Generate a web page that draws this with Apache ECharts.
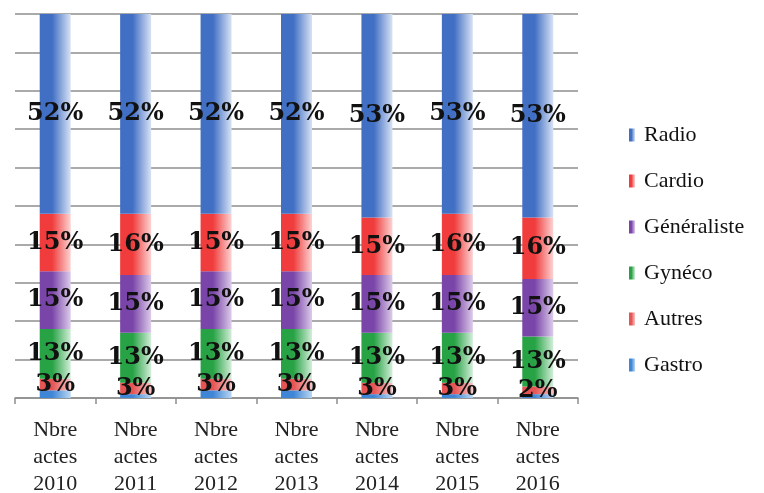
<!DOCTYPE html>
<html>
<head>
<meta charset="utf-8">
<style>
  html, body { margin: 0; padding: 0; background: #ffffff; }
  #chart { width: 764px; height: 493px; }
</style>
<script src="https://cdn.jsdelivr.net/npm/echarts@6/dist/echarts.min.js"></script>
</head>
<body>
<div id="chart"></div>
<script>
// Share of "Nbre actes" by specialty, per year (percent)
const categories = ['Nbre\nactes\n2010', 'Nbre\nactes\n2011', 'Nbre\nactes\n2012', 'Nbre\nactes\n2013',
                    'Nbre\nactes\n2014', 'Nbre\nactes\n2015', 'Nbre\nactes\n2016'];
const gastro      = [2, 1, 2, 2, 1, 1, 1];
const autres      = [3, 3, 3, 3, 3, 3, 2];
const gyneco      = [13, 13, 13, 13, 13, 13, 13];
const generaliste = [15, 15, 15, 15, 15, 15, 15];
const cardio      = [15, 16, 15, 15, 15, 16, 16];
const radio       = [52, 52, 52, 52, 53, 53, 53];
const legendOrder = ['Radio', 'Cardio', 'Généraliste', 'Gynéco', 'Autres', 'Gastro'];

function shade(dark, light) {
  return new echarts.graphic.LinearGradient(0, 0, 1, 0, [
    { offset: 0, color: dark },
    { offset: 0.4, color: dark },
    { offset: 1, color: light }
  ]);
}

const labelStyle = {
  show: true,
  position: 'inside',
  formatter: p => p.value + '%',
  fontFamily: 'DejaVu Serif',
  fontWeight: 'bold',
  fontSize: 24,
  color: '#111111'
};

function makeSeries(name, data, dark, light, showLabel) {
  return {
    name: name,
    type: 'bar',
    stack: 'total',
    barWidth: 31,
    data: data,
    itemStyle: { color: shade(dark, light) },
    label: showLabel ? labelStyle : { show: false },
    emphasis: { disabled: true }
  };
}

const chart = echarts.init(document.getElementById('chart'), null, { renderer: 'canvas' });
chart.setOption({
  animation: false,
  backgroundColor: '#ffffff',
  grid: { left: 15, top: 14, width: 563, bottom: 95, containLabel: false, outerBoundsMode: 'none' },
  legend: {
    orient: 'vertical',
    left: 624,
    top: 119,
    itemWidth: 6,
    itemHeight: 13,
    itemGap: 24,
    icon: 'rect',
    data: legendOrder,
    textStyle: { fontFamily: 'Liberation Serif', fontSize: 22, color: '#111111', padding: [0, 0, 0, 4] }
  },
  xAxis: {
    type: 'category',
    data: categories,
    axisLine: { lineStyle: { color: '#8e8e8e', width: 1.5 } },
    axisTick: { show: true, length: 6, lineStyle: { color: '#8e8e8e', width: 1.5 } },
    axisLabel: {
      margin: 19,
      fontFamily: 'Liberation Serif',
      fontSize: 22,
      lineHeight: 27,
      color: '#222222'
    }
  },
  yAxis: {
    type: 'value',
    min: 0,
    max: 100,
    interval: 10,
    axisLabel: { show: false },
    axisLine: { show: false },
    axisTick: { show: false },
    splitLine: { lineStyle: { color: '#8e8e8e', width: 1.5 } }
  },
  series: [
    makeSeries('Gastro', gastro, '#3f86d6', '#b9d6f2', false),
    makeSeries('Autres', autres, '#e65454', '#f7c4c4', true),
    makeSeries('Gynéco', gyneco, '#27a244', '#d3eed9', true),
    makeSeries('Généraliste', generaliste, '#7a45a8', '#dccbea', true),
    makeSeries('Cardio', cardio, '#f03c3c', '#fcd3d3', true),
    makeSeries('Radio', radio, '#416fc4', '#d8e2f4', true)
  ]
});
</script>
</body>
</html>
